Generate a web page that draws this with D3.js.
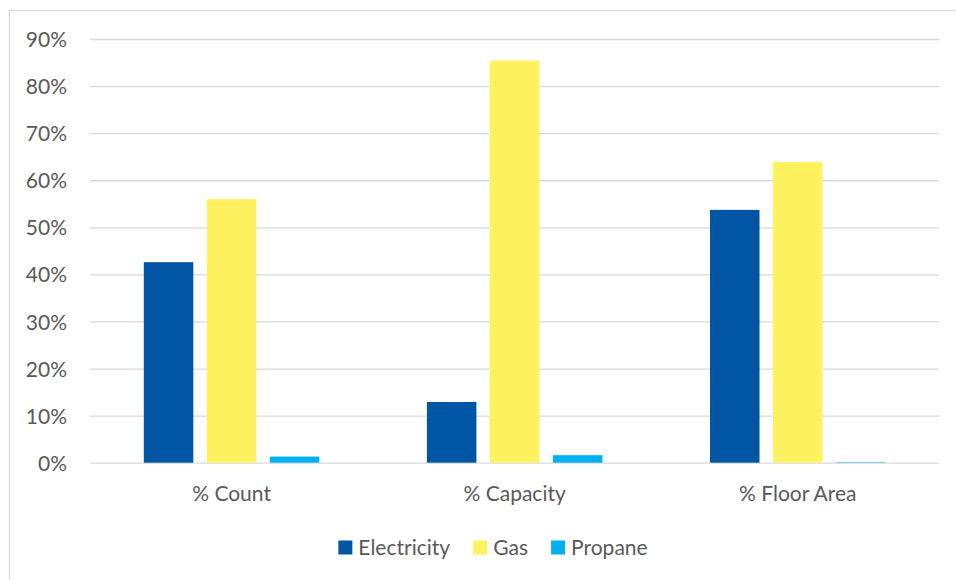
<!DOCTYPE html>
<html>
<head>
<meta charset="utf-8">
<script src="https://cdn.jsdelivr.net/npm/d3@7"></script>
<style>
  html, body { margin: 0; padding: 0; background: #fff; }
  svg { display: block; }
  text { font-family: Lato, "Open Sans", sans-serif; fill: #595959; }
</style>
</head>
<body>
<svg id="chart" width="956" height="580"></svg>
<script>
const categories = ["% Count", "% Capacity", "% Floor Area"];
const seriesNames = ["Electricity", "Gas", "Propane"];
const electricity = [0.426, 0.129, 0.537];
const gas = [0.560, 0.854, 0.639];
const propane = [0.013, 0.016, 0.001];
const yTicks = [0, 0.1, 0.2, 0.3, 0.4, 0.5, 0.6, 0.7, 0.8, 0.9];
const colors = ["#0055A5", "#FFF261", "#00B0F0"];

const seriesValues = [electricity, gas, propane];
const data = categories.map((c, i) => ({
  category: c,
  values: seriesNames.map((s, j) => ({ series: s, value: seriesValues[j][i], color: colors[j] }))
}));

const svg = d3.select("#chart");
const W = 956, H = 580;

// outer chart border (extends past right/bottom edge)
svg.append("rect")
  .attr("x", 9.5).attr("y", 10.5)
  .attr("width", 1000).attr("height", 1000)
  .attr("fill", "none").attr("stroke", "#D9D9D9").attr("stroke-width", 1.3);

const plotLeft = 90, plotRight = 939.3, plotTop = 39, plotBottom = 462.7;

const y = d3.scaleLinear().domain([0, 0.9]).range([plotBottom, plotTop]);
const x0 = d3.scaleBand().domain(categories).range([plotLeft, plotRight]).padding(0);
const groupPad = 53.8;
const x1 = d3.scaleBand().domain(seriesNames)
  .range([groupPad, x0.bandwidth() - groupPad])
  .paddingInner(0.214).paddingOuter(0);

// gridlines
const yAxis = d3.axisLeft(y).tickValues(yTicks)
  .tickSize(-(plotRight - plotLeft))
  .tickPadding(23)
  .tickFormat(d3.format(".0%"));

const gAxis = svg.append("g")
  .attr("transform", `translate(${plotLeft},0)`)
  .call(yAxis);
gAxis.select(".domain").remove();
gAxis.selectAll(".tick line").attr("stroke", "#D9D9D9").attr("stroke-width", 1.3);
gAxis.selectAll(".tick text")
  .style("font-size", "21px").attr("fill", "#595959").attr("dy", "0.36em");

// bars
const groups = svg.append("g").selectAll("g")
  .data(data).join("g")
  .attr("transform", d => `translate(${x0(d.category)},0)`);

groups.selectAll("rect")
  .data(d => d.values).join("rect")
  .attr("x", d => x1(d.series))
  .attr("width", x1.bandwidth())
  .attr("y", d => y(d.value))
  .attr("height", d => y(0) - y(d.value))
  .attr("fill", d => d.color);

// category labels
const xAxis = d3.axisBottom(x0).tickSize(0).tickPadding(0);
const gX = svg.append("g").attr("transform", `translate(0,493)`).call(xAxis);
gX.select(".domain").remove();
gX.selectAll(".tick text")
  .style("font-size", "21px").attr("fill", "#595959").attr("dy", "0.36em").attr("y", 0);

// legend
const legend = svg.append("g");
const items = legend.selectAll("g").data(seriesNames).join("g");
items.append("rect")
  .attr("width", 14).attr("height", 14).attr("y", -7)
  .attr("fill", (d, i) => colors[i]);
items.append("text")
  .attr("x", 20).attr("dy", "0.36em")
  .style("font-size", "21px")
  .text(d => d);
let cx = 0;
items.each(function() {
  const w = this.getBBox().width;
  d3.select(this).attr("data-w", w).attr("transform", `translate(${cx},0)`);
  cx += w + 23;
});
const totalW = cx - 23;
legend.attr("transform", `translate(${493 - totalW / 2},547.5)`);
</script>
</body>
</html>
